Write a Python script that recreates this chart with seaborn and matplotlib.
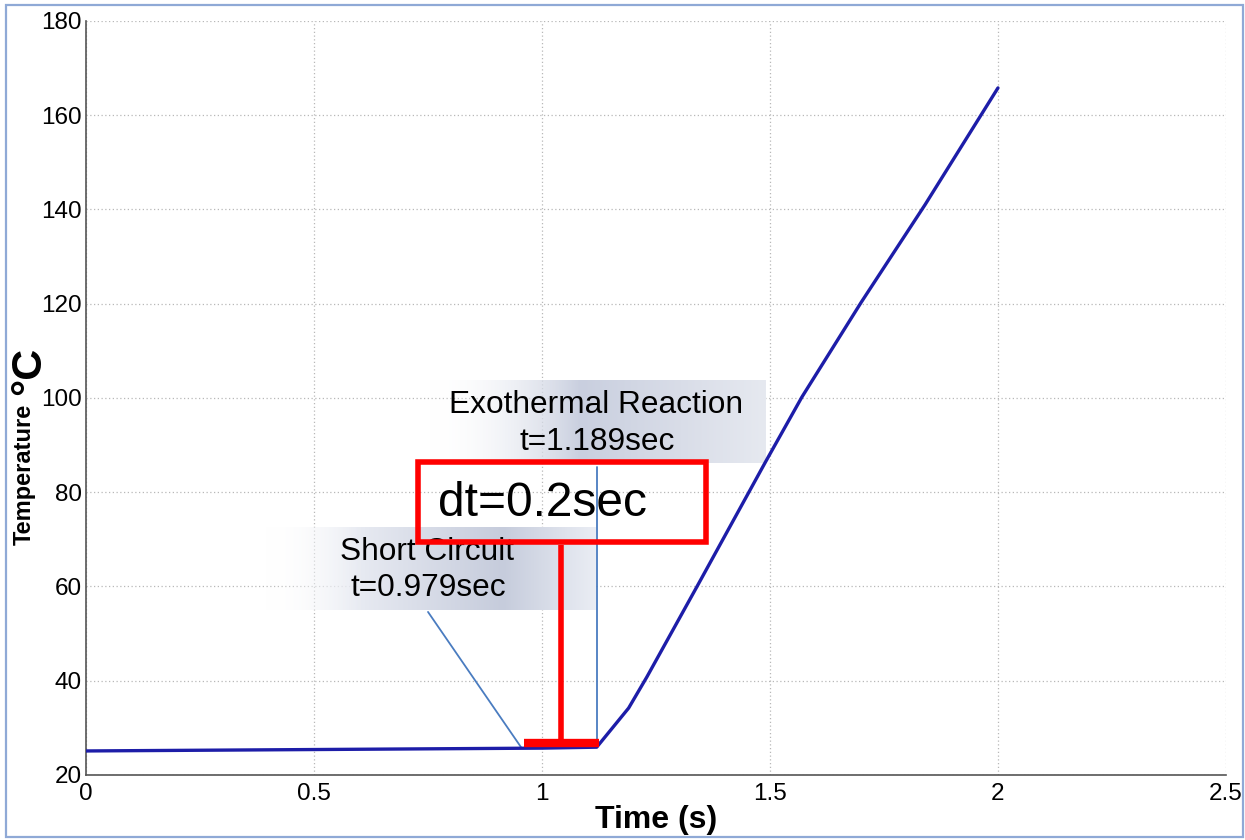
import matplotlib
matplotlib.use("Agg")
import matplotlib.pyplot as plt
from matplotlib.colors import LinearSegmentedColormap, to_rgba
from matplotlib.patches import Rectangle
from matplotlib.ticker import MultipleLocator
import numpy as np
import pandas as pd
import seaborn as sns

# temperature curve
time_s = [0.0, 0.5, 1.0, 1.12, 1.19, 1.23, 1.34, 1.49, 1.57, 1.70, 1.84, 2.0]
temp_c = [25.1, 25.4, 25.7, 25.9, 34.2, 40.8, 60.0, 86.4, 100.2, 120.3, 141.0, 165.8]

short_label = ["Short Circuit", "t=0.979sec"]
exo_label = ["Exothermal Reaction", "t=1.189sec"]
dt_label = "dt=0.2sec"

x_ticks = [0, 0.5, 1, 1.5, 2, 2.5]
x_tick_labels = ["0", "0.5", "1", "1.5", "2", "2.5"]
y_ticks = [20, 40, 60, 80, 100, 120, 140, 160, 180]

sns.set_style("white")
plt.rcParams["font.family"] = ["Liberation Sans", "DejaVu Sans"]
plt.rcParams["text.color"] = "black"
plt.rcParams["axes.labelcolor"] = "black"
plt.rcParams["xtick.labelcolor"] = "black"
plt.rcParams["ytick.labelcolor"] = "black"


def gradient_box(ax, x0, x1, y0, y1, stops):
    cmap = LinearSegmentedColormap.from_list(
        "box", [(p, to_rgba(c, a)) for p, c, a in stops])
    arr = cmap(np.linspace(0, 1, 256))[None, :, :]
    ax.imshow(arr, extent=[x0, x1, y0, y1], aspect="auto",
              interpolation="bilinear", zorder=1)


fig = plt.figure(figsize=(12.45, 8.4), dpi=100)
ax = fig.add_axes([0.0691, 0.0774, 0.9156, 0.8976])

df = pd.DataFrame({"time": time_s, "temp": temp_c})
sns.lineplot(data=df, x="time", y="temp", color="#1d1da8", linewidth=2.4,
             ax=ax, zorder=4)

# shaded label boxes
gradient_box(ax, 0.752, 1.489, 86.2, 103.8,
             [(0, "white", 0), (0.45, "#c9cfdf", 1), (0.75, "#d9dde8", 1), (1, "#e6e9f0", 1)])
gradient_box(ax, 0.393, 1.118, 55.0, 72.6,
             [(0, "white", 0), (0.3, "#e6e9f1", 1), (0.72, "#c6ccdc", 1), (1, "#eaedf4", 1)])

ax.text(0.748, 67.3, short_label[0], ha="center", va="center", fontsize=22.8, zorder=5)
ax.text(0.750, 59.7, short_label[1], ha="center", va="center", fontsize=22.8, zorder=5)
ax.text(1.118, 98.5, exo_label[0], ha="center", va="center", fontsize=22.8, zorder=5)
ax.text(1.121, 90.7, exo_label[1], ha="center", va="center", fontsize=22.8, zorder=5)

# leader lines
ax.plot([0.750, 0.954], [54.6, 25.9], color="#4a7cc0", linewidth=1.3, zorder=3)
ax.plot([1.121, 1.121], [85.4, 25.9], color="#4a7cc0", linewidth=1.3, zorder=3)

# red dt marker
ax.add_patch(Rectangle((0.728, 69.4), 1.360 - 0.728, 86.4 - 69.4, fill=False,
                       edgecolor="#ff0000", linewidth=4.0, zorder=6))
ax.text(0.772, 77.7, dt_label, ha="left", va="center", fontsize=34.5, zorder=6)
ax.plot([1.042, 1.042], [68.8, 27.2], color="#ff0000", linewidth=4.0,
        solid_capstyle="butt", zorder=6)
ax.plot([0.961, 1.125], [26.8, 26.8], color="#ff0000", linewidth=6.0,
        solid_capstyle="butt", zorder=6)

ax.set_xlim(0, 2.5)
ax.set_ylim(20, 180)
ax.set_xticks(x_ticks)
ax.set_xticklabels(x_tick_labels)
ax.set_yticks(y_ticks)
ax.xaxis.set_minor_locator(MultipleLocator(0.25))
ax.yaxis.set_minor_locator(MultipleLocator(10))
ax.tick_params(which="both", direction="in", color="#777777", labelsize=17.5,
               labelcolor="black")
ax.tick_params(which="major", length=4)
ax.tick_params(which="minor", length=3)
ax.tick_params(axis="y", pad=3)
ax.tick_params(axis="x", pad=6)
ax.grid(True, which="major", color="#b8b8b8", linestyle=(0, (1, 2)), linewidth=0.9)

for side in ["top", "right"]:
    ax.spines[side].set_visible(False)
for side in ["left", "bottom"]:
    ax.spines[side].set_color("#555555")
    ax.spines[side].set_linewidth(1.2)

ax.set_xlabel("Time (s)", fontsize=23, fontweight="bold", labelpad=0, color="black")
ax.set_ylabel("")
fig.text(24 / 1245, 1 - 474 / 840, "Temperature", rotation=90, ha="center",
         va="center", fontsize=17, fontweight="bold", color="black")
fig.text(29 / 1245, 1 - 371 / 840, "°C", rotation=90, ha="center",
         va="center", fontsize=31, fontweight="bold", color="black")

# light blue frame around the whole picture
fig.patches.append(Rectangle((6 / 1245, 3 / 840), 1237 / 1245, 832 / 840,
                             transform=fig.transFigure, fill=False,
                             edgecolor="#8fa9d6", linewidth=1.6))

fig.savefig("out.png", dpi=100)
